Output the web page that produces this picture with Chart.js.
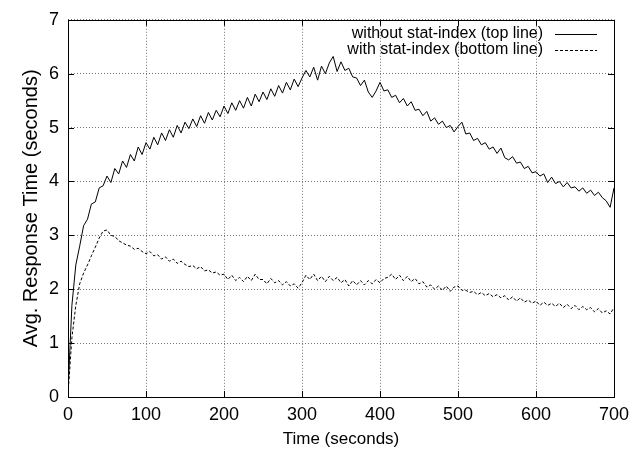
<!DOCTYPE html>
<html>
<head>
<meta charset="utf-8">
<script src="https://cdn.jsdelivr.net/npm/chart.js@4/dist/chart.umd.min.js"></script>
<style>
  html, body { margin: 0; padding: 0; background: #fff; }
  #wrap { width: 643px; height: 454px; }
</style>
</head>
<body>
<div id="wrap"><canvas id="chart" width="643" height="454"></canvas></div>
<script>
const STEP = 5;

const withoutIndex = [
  0.10, 1.70, 2.45, 2.80, 3.18, 3.30, 3.58, 3.62, 3.88, 3.92,
  4.10, 3.98, 4.24, 4.14, 4.38, 4.26, 4.50, 4.38, 4.64, 4.50,
  4.72, 4.60, 4.82, 4.68, 4.90, 4.76, 4.96, 4.82, 5.04, 4.90,
  5.10, 4.98, 5.16, 5.02, 5.22, 5.08, 5.28, 5.14, 5.32, 5.20,
  5.40, 5.26, 5.46, 5.32, 5.50, 5.36, 5.56, 5.40, 5.62, 5.48,
  5.66, 5.52, 5.72, 5.58, 5.78, 5.64, 5.84, 5.70, 5.90, 5.76,
  5.92, 6.06, 5.94, 6.12, 5.88, 6.14, 6.00, 6.20, 6.32, 6.04,
  6.22, 6.06, 6.10, 5.94, 5.92, 5.78, 5.88, 5.66, 5.56, 5.68,
  5.84, 5.68, 5.70, 5.56, 5.60, 5.46, 5.54, 5.40, 5.48, 5.32,
  5.34, 5.22, 5.30, 5.12, 5.18, 5.06, 5.12, 5.00, 5.04, 4.92,
  5.02, 5.10, 4.88, 4.90, 4.76, 4.80, 4.68, 4.72, 4.60, 4.64,
  4.52, 4.62, 4.44, 4.40, 4.46, 4.34, 4.36, 4.24, 4.28, 4.16,
  4.18, 4.10, 4.14, 3.98, 4.08, 3.96, 4.00, 3.90, 3.98, 3.88,
  3.90, 3.82, 3.88, 3.78, 3.84, 3.74, 3.80, 3.70, 3.64, 3.52,
  3.88
];

const withIndex = [
  0.05, 1.10, 1.70, 2.10, 2.30, 2.45, 2.62, 2.78, 2.95, 3.08,
  3.10, 3.00, 2.98, 2.90, 2.86, 2.82, 2.80, 2.74, 2.76, 2.70,
  2.66, 2.70, 2.62, 2.64, 2.56, 2.60, 2.52, 2.56, 2.48, 2.52,
  2.46, 2.42, 2.44, 2.38, 2.42, 2.34, 2.36, 2.30, 2.32, 2.26,
  2.28, 2.18, 2.26, 2.16, 2.22, 2.14, 2.24, 2.16, 2.28, 2.18,
  2.18, 2.10, 2.20, 2.12, 2.16, 2.08, 2.14, 2.06, 2.10, 2.02,
  2.12, 2.26, 2.18, 2.28, 2.16, 2.24, 2.14, 2.24, 2.16, 2.22,
  2.12, 2.18, 2.06, 2.16, 2.08, 2.16, 2.08, 2.16, 2.10, 2.18,
  2.12, 2.20, 2.22, 2.28, 2.18, 2.26, 2.16, 2.24, 2.14, 2.20,
  2.10, 2.14, 2.04, 2.08, 2.00, 2.06, 1.98, 2.06, 1.96, 2.04,
  2.06, 1.98, 1.98, 1.94, 1.96, 1.90, 1.94, 1.88, 1.92, 1.86,
  1.90, 1.84, 1.88, 1.80, 1.86, 1.78, 1.84, 1.76, 1.80, 1.74,
  1.78, 1.70, 1.76, 1.70, 1.74, 1.68, 1.74, 1.66, 1.72, 1.64,
  1.70, 1.62, 1.68, 1.62, 1.66, 1.58, 1.64, 1.56, 1.60, 1.54,
  1.66
];

const seriesLabels = ['without stat-index (top line)', 'with stat-index (bottom line)'];
const xTicks = [0, 100, 200, 300, 400, 500, 600, 700];
const yTicks = [0, 1, 2, 3, 4, 5, 6, 7];

const FONT = "'Liberation Sans', Arial, Helvetica, sans-serif";
const times = withoutIndex.map((_, i) => i * STEP);
const pts = arr => arr.map((v, i) => ({ x: times[i], y: v }));

// gnuplot-ish frame, inward ticks on all four sides, key at top right
const gnuFrame = {
  id: 'gnuFrame',
  afterDatasetsDraw(chart) {
    const { ctx, chartArea: a, scales: { x, y } } = chart;
    ctx.save();
    ctx.strokeStyle = '#000';
    ctx.lineWidth = 1;
    ctx.setLineDash([]);
    const tl = 6;
    ctx.beginPath();
    xTicks.forEach(v => {
      const px = Math.round(x.getPixelForValue(v)) + 0.5;
      ctx.moveTo(px, a.bottom); ctx.lineTo(px, a.bottom - tl);
      ctx.moveTo(px, a.top); ctx.lineTo(px, a.top + tl);
    });
    yTicks.forEach(v => {
      const py = Math.round(y.getPixelForValue(v)) + 0.5;
      ctx.moveTo(a.left, py); ctx.lineTo(a.left + tl, py);
      ctx.moveTo(a.right, py); ctx.lineTo(a.right - tl, py);
    });
    ctx.stroke();
    ctx.strokeRect(Math.round(a.left) + 0.5, Math.round(a.top) + 0.5,
      Math.round(a.right - a.left), Math.round(a.bottom - a.top));

    // key
    ctx.font = '16px ' + FONT;
    ctx.fillStyle = '#000';
    ctx.textAlign = 'right';
    ctx.textBaseline = 'middle';
    chart.data.datasets.forEach((ds, i) => {
      const ty = 33.5 + i * 16.5;
      ctx.fillText(ds.label, 543, ty);
      ctx.setLineDash(ds.borderDash || []);
      ctx.beginPath();
      ctx.moveTo(555, Math.round(ty) + 0.5);
      ctx.lineTo(597, Math.round(ty) + 0.5);
      ctx.stroke();
    });
    ctx.restore();
  }
};

new Chart(document.getElementById('chart'), {
  type: 'line',
  data: {
    datasets: [
      {
        label: seriesLabels[0],
        data: pts(withoutIndex),
        borderColor: '#000',
        borderWidth: 1,
        pointRadius: 0,
        tension: 0,
      },
      {
        label: seriesLabels[1],
        data: pts(withIndex),
        borderColor: '#000',
        borderWidth: 1,
        borderDash: [3, 2],
        pointRadius: 0,
        tension: 0,
      },
    ],
  },
  options: {
    responsive: false,
    animation: false,
    layout: { padding: { left: 0, right: 29, top: 19, bottom: 0 } },
    plugins: {
      legend: { display: false },
      tooltip: { enabled: false },
    },
    scales: {
      x: {
        type: 'linear',
        min: 0,
        max: 700,
        afterBuildTicks: s => { s.ticks = xTicks.map(v => ({ value: v })); },
        afterFit: s => { s.height = 57; },
        ticks: { font: { family: FONT, size: 18 }, color: '#000', padding: 7, maxRotation: 0 },
        grid: { color: 'rgba(0,0,0,0.55)', lineWidth: 1, drawTicks: false },
        border: { display: false, dash: [1, 2] },
        title: {
          display: true,
          text: 'Time (seconds)',
          font: { family: FONT, size: 17 },
          color: '#000',
          padding: { top: 0, bottom: 4 },
        },
      },
      y: {
        min: 0,
        max: 7,
        afterBuildTicks: s => { s.ticks = yTicks.map(v => ({ value: v })); },
        afterFit: s => { s.width = 68; },
        ticks: { font: { family: FONT, size: 18 }, color: '#000', padding: 9 },
        grid: { color: 'rgba(0,0,0,0.55)', lineWidth: 1, drawTicks: false },
        border: { display: false, dash: [1, 2] },
        title: {
          display: true,
          text: 'Avg. Response Time (seconds)',
          font: { family: FONT, size: 20 },
          color: '#000',
          padding: { top: 19, bottom: 0 },
        },
      },
    },
  },
  plugins: [gnuFrame],
});
</script>
</body>
</html>
